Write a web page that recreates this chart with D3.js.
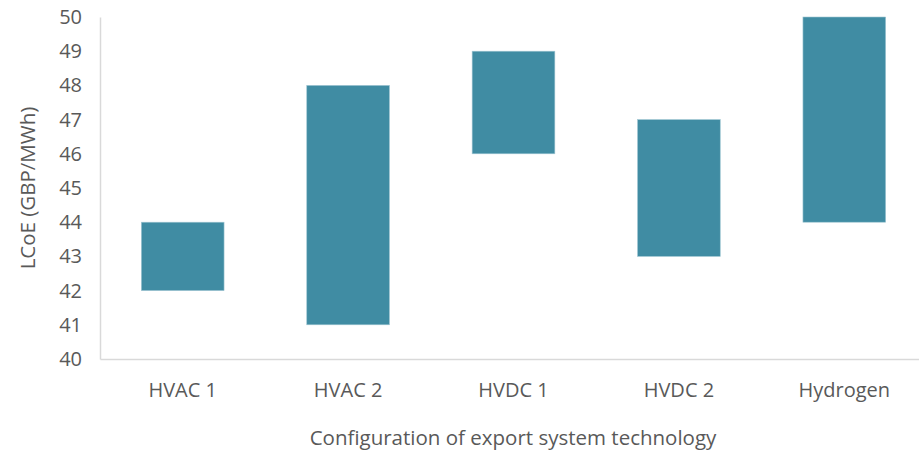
<!DOCTYPE html>
<html>
<head>
<meta charset="utf-8">
<script src="https://cdn.jsdelivr.net/npm/d3@7"></script>
<style>
  body { margin: 0; background: #fff; }
  text { font-family: "Open Sans", sans-serif; fill: #595959; }
</style>
</head>
<body>
<svg id="chart" width="919" height="452"></svg>
<script>
// floating bars: low / high LCoE per configuration
var categories = ["HVAC 1", "HVAC 2", "HVDC 1", "HVDC 2", "Hydrogen"];
var lowValues = [42, 41, 46, 43, 44];
var highValues = [44, 48, 49, 47, 50];
var yTicks = [40, 41, 42, 43, 44, 45, 46, 47, 48, 49, 50];

var data = categories.map(function(c, i) {
    return {cat: c, low: lowValues[i], high: highValues[i]};
});

var margin = {top: 17, left: 100, bottom: 93},
    width = 827,
    height = 452 - margin.top - margin.bottom;

var svg = d3.select("#chart")
    .append("g")
    .attr("transform", "translate(" + margin.left + "," + margin.top + ")");

var x = d3.scaleBand()
    .domain(categories)
    .range([0, width])
    .paddingInner(0.5)
    .paddingOuter(0.25);

var y = d3.scaleLinear()
    .domain([40, 50])
    .range([height, 0]);

// bars
svg.selectAll("rect.bar")
    .data(data)
    .enter()
    .append("rect")
    .attr("class", "bar")
    .attr("x", function(d) { return x(d.cat); })
    .attr("y", function(d) { return y(d.high); })
    .attr("width", x.bandwidth())
    .attr("height", function(d) { return y(d.low) - y(d.high); })
    .attr("fill", "#408ca3")
    .attr("stroke", "#9fc6d2")
    .attr("stroke-width", 0.6);

// axes
var yAxis = svg.append("g")
    .call(d3.axisLeft(y).tickValues(yTicks).tickSize(0).tickPadding(18));
yAxis.select(".domain").attr("stroke", "#d9d9d9").attr("stroke-width", 1.5);
yAxis.selectAll("text").style("font-size", "20px");

var xAxis = svg.append("g")
    .attr("transform", "translate(0," + height + ")")
    .call(d3.axisBottom(x).tickSize(0).tickPadding(24));
xAxis.select(".domain").attr("stroke", "#d9d9d9").attr("stroke-width", 1.5);
xAxis.selectAll("text").style("font-size", "20px");

// axis titles
d3.select("#chart").append("text")
    .attr("x", 513)
    .attr("y", 445)
    .attr("text-anchor", "middle")
    .style("font-size", "20.5px")
    .text("Configuration of export system technology");

d3.select("#chart").append("text")
    .attr("transform", "translate(35,188) rotate(-90)")
    .attr("text-anchor", "middle")
    .style("font-size", "20.5px")
    .text("LCoE (GBP/MWh)");
</script>
</body>
</html>
